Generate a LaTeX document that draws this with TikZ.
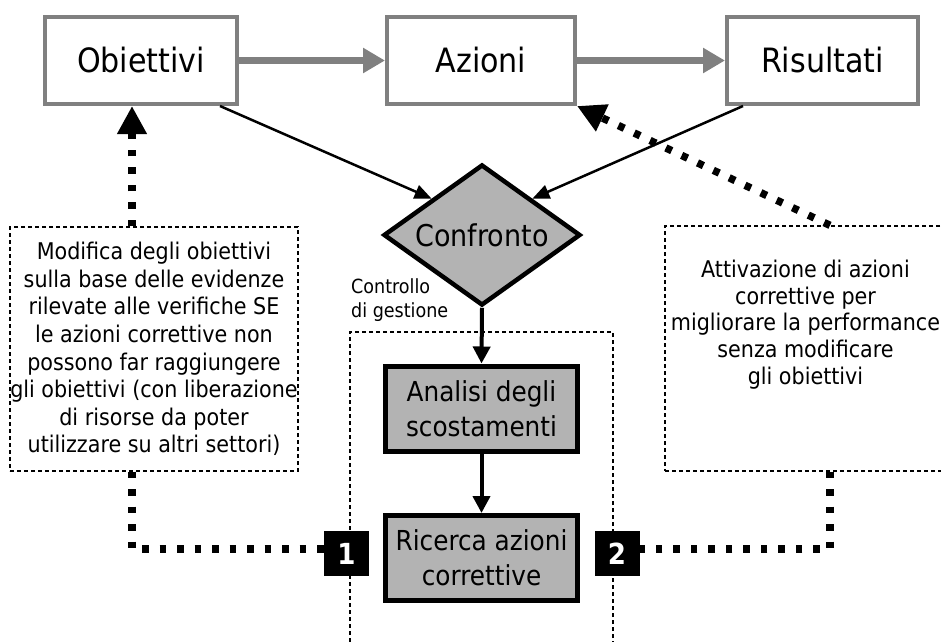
\documentclass[tikz,border=0pt]{standalone}
\usepackage{fontspec}
\setmainfont{DejaVu Sans Condensed}
\usetikzlibrary{arrows.meta,shapes.geometric}

\definecolor{boxgray}{RGB}{128,128,128}
\definecolor{fillgray}{RGB}{179,179,179}

\tikzset{
  topbox/.style={draw=boxgray, line width=4pt, fill=white, inner sep=0pt,
    minimum height=87pt, font=\fontsize{33.5}{40}\selectfont},
  stepbox/.style={draw=black, line width=5pt, fill=fillgray, inner sep=0pt,
    minimum width=192pt, minimum height=85pt, align=center,
    font=\fontsize{27.5}{35}\selectfont},
  notebox/.style={draw=black, line width=1.3pt, dash pattern=on 4pt off 3pt,
    inner sep=0pt, align=center},
  badge/.style={fill=black, text=white, minimum size=45pt, inner sep=0pt,
    font=\bfseries\fontsize{29}{30}\selectfont},
  grayarrow/.style={draw=boxgray, line width=6.5pt,
    -{Triangle[length=22pt,width=24pt]}},
  thinarrow/.style={draw=black, line width=2.5pt,
    -{Triangle[length=17pt,width=14pt]}},
  flowarrow/.style={draw=black, line width=4pt,
    -{Triangle[length=17pt,width=17pt]}},
  dotline/.style={draw=black, line width=7.5pt, dash pattern=on 6.5pt off 11pt},
  dotarrow/.style={dotline, -{Triangle[length=28pt,width=28pt]}},
}

\begin{document}
\begin{tikzpicture}[x=1pt, y=-1pt]
  \useasboundingbox (0,0) rectangle (941,641);

  % control area frame (runs past the lower edge)
  \node[notebox, minimum width=263pt, minimum height=330pt] (ctrl) at (481.5,497) {};
  \node[anchor=north west, align=left, inner sep=0pt,
        font=\fontsize{19.5}{24}\selectfont] (ctrllabel) at (351,278.2)
        {Controllo\\di gestione};

  % top row
  \node[topbox, minimum width=192pt] (obj) at (141,60.5) {Obiettivi};
  \node[topbox, minimum width=188pt] (azi) at (481,60.5) {Azioni};
  \node[topbox, minimum width=191pt] (ris) at (822.5,60.5) {Risultati};

  \draw[grayarrow] (obj.east) -- (azi.west);
  \draw[grayarrow] (azi.east) -- (ris.west);

  % comparison
  \node[diamond, draw=black, line width=4.5pt, fill=fillgray, inner sep=0pt,
        aspect=1.4, minimum width=197pt, minimum height=141pt,
        font=\fontsize{30}{36}\selectfont] (conf) at (482,235) {Confronto};

  \draw[thinarrow] ([xshift=-19pt]obj.south east) -- (conf.north west);
  \draw[thinarrow] ([xshift=18pt]ris.south west) -- (conf.north east);

  % control steps
  \node[stepbox] (ana) at (481.5,408.5) {Analisi degli\\scostamenti};
  \node[stepbox] (ric) at (481.5,558) {Ricerca azioni\\correttive};

  \draw[flowarrow] (conf.south) -- (ana.north);
  \draw[flowarrow] (ana.south) -- (ric.north);

  % side notes
  \node[notebox, minimum width=288pt, minimum height=244pt,
        font=\fontsize{23}{27.6}\selectfont] (lbox) at (154,349)
        {Modifica degli obiettivi\\sulla base delle evidenze\\rilevate alle verifiche SE\\le azioni correttive non\\possono far raggiungere\\gli obiettivi (con liberazione\\di risorse da poter\\utilizzare su altri settori)};

  \node[notebox, minimum width=281pt, minimum height=245pt] (rbox) at (805.5,348.5) {};
  \node[align=center, inner sep=0pt, font=\fontsize{23}{26.7}\selectfont]
        (rtext) at (805.5,324.6)
        {Attivazione di azioni\\correttive per\\migliorare la performance\\senza modificare\\gli obiettivi};

  % numbered outcomes
  \node[badge] (b1) at (346.5,553.5) {1};
  \node[badge] (b2) at (617,553.5) {2};

  % feedback loops
  \draw[dotline] ([xshift=-22pt]lbox.south) |- ([yshift=4.5pt]b1.west);
  \draw[dotarrow] ([xshift=-22pt]lbox.north) -- ([xshift=-9pt]obj.south);

  \draw[dotline] ([xshift=24.5pt]rbox.south) |- ([yshift=4.5pt]b2.east);
  \draw[dotarrow] ([xshift=24.5pt]rbox.north) -- (azi.south east);
\end{tikzpicture}
\end{document}
